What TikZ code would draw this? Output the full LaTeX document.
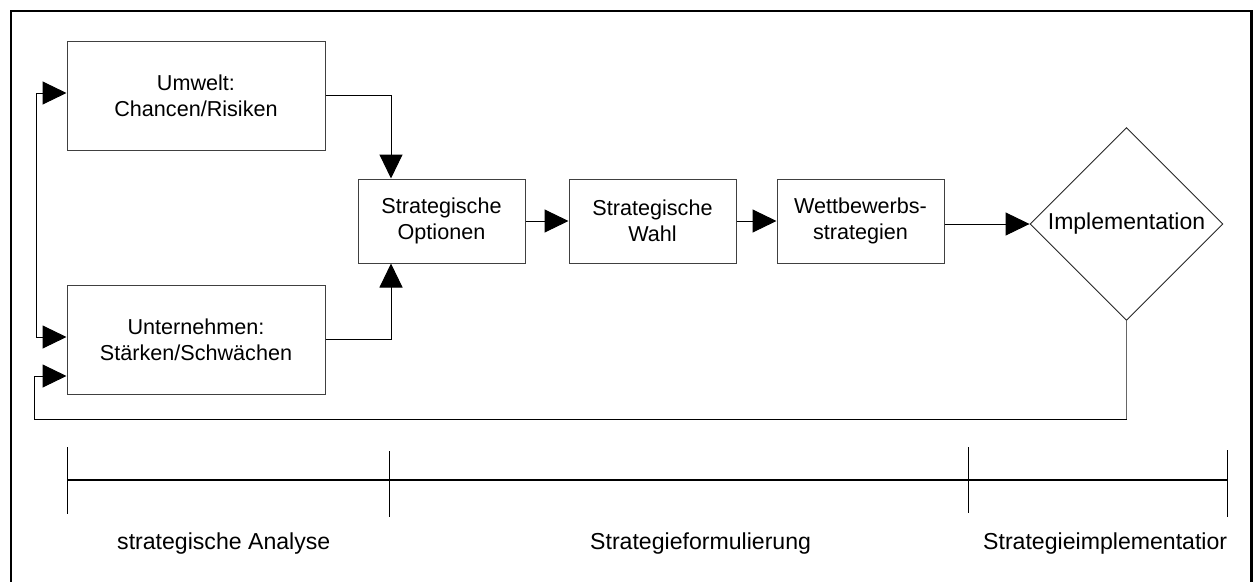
\documentclass[tikz,border=0pt]{standalone}
\usepackage{fontspec}
\setmainfont{Liberation Sans}
\usetikzlibrary{arrows.meta,shapes.geometric}
\tikzset{
  stbox/.style={draw=black!75, line width=1pt, inner sep=0pt, align=center,
    font=\fontsize{21.6}{26}\selectfont},
  bigbox/.style={stbox, minimum width=258pt, minimum height=109pt},
  smallbox/.style={stbox, minimum width=167pt, minimum height=84pt},
  decis/.style={diamond, draw=black!85, line width=0.9pt, inner sep=0pt, aspect=1,
    minimum width=193pt, minimum height=193pt, font=\fontsize{23}{27}\selectfont},
  arr/.style={-{Triangle[length=24pt,width=23pt]}, line width=1pt, draw=black},
  conn/.style={line width=1pt, draw=black},
  tick/.style={line width=0.9pt, draw=black},
  phase/.style={anchor=base west, inner sep=0pt, font=\fontsize{23.1}{27}\selectfont},
}
\begin{document}
\begin{tikzpicture}[x=1pt,y=-1pt]
\useasboundingbox (0,0) rectangle (1258,581);
\clip (0,0) rectangle (1258,581);
% frame
\draw[line width=2.7pt] (11,11) rectangle (1251.5,590);
% boxes
\node[bigbox] (umw) at (196,95.5) {Umwelt:\\Chancen/Risiken};
\node[bigbox] (unt) at (196,339.5) {Unternehmen:\\St\"arken/Schw\"achen};
\node[smallbox] (opt) at (441.5,221) {Strategische\\Optionen};
\node[smallbox] (wahl) at (652.5,221) {Strategische\\Wahl};
\node[smallbox] (wett) at (860.5,221) {Wettbewerbs-\\strategien};
\node[decis] (impl) at (1126.5,224) {Implementation};
% connectors
\draw[arr] (umw.east) -| ([xshift=-50.5pt]opt.north);
\draw[arr] (unt.east) -| ([xshift=-50.5pt]opt.south);
\draw[arr] (opt.east) -- (wahl.west);
\draw[arr] (wahl.east) -- (wett.west);
\draw[arr] (impl.west -| wett.east) -- (impl.west);
% left input arrows
\coordinate (lt) at (36,93);
\coordinate (lb) at (36,337);
\draw[conn] (lt) -- (lb);
\draw[arr] (lt) -- (lt -| umw.west);
\draw[arr] (lb) -- (lb -| unt.west);
% feedback loop
\coordinate (fb1) at (1126.5,419);
\coordinate (fb2) at (34,419);
\coordinate (fb3) at (34,376);
\draw[line width=1pt, draw=black!60] (impl.south) -- (fb1);
\draw[conn] (fb1) -- (fb2) -- (fb3);
\draw[arr] (fb3) -- (fb3 -| unt.west);
% timeline
\coordinate (t1) at (67.5,480);
\coordinate (t2) at (389,480);
\coordinate (t3) at (968.5,480);
\coordinate (t4) at (1227,480);
\draw[line width=1.2pt] (t1) -- (t4);
\draw[tick] ([yshift=33pt]t1) -- ([yshift=-34pt]t1);
\draw[tick] ([yshift=29pt]t2) -- ([yshift=-37pt]t2);
\draw[tick] ([yshift=33pt]t3) -- ([yshift=-33pt]t3);
\draw[tick] ([yshift=30pt]t4) -- ([yshift=-37pt]t4);
\node[phase] (ph1) at (117,549.5) {strategische Analyse};
\node[phase] (ph2) at (590,549) {Strategieformulierung};
\node[phase] (ph3) at (983,549) {Strategieimplementatior};
\end{tikzpicture}
\end{document}
